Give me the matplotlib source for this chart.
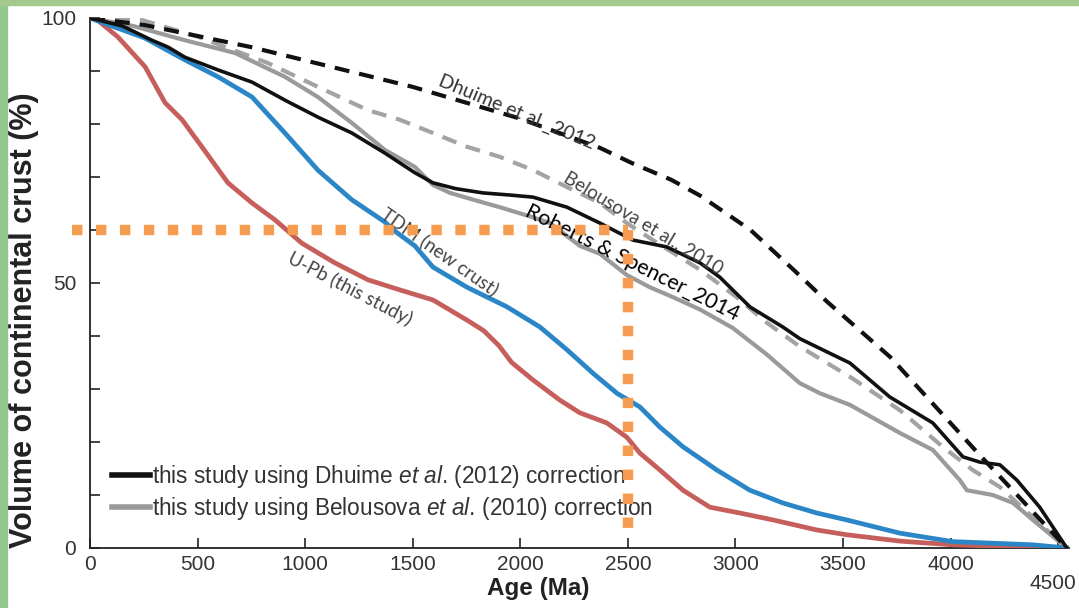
import matplotlib
matplotlib.use("Agg")
import matplotlib.pyplot as plt
from matplotlib.patches import Rectangle

plt.rcParams['font.family'] = ['Liberation Sans', 'DejaVu Sans']
plt.rcParams['mathtext.fontset'] = 'custom'
plt.rcParams['mathtext.rm'] = 'Liberation Sans'
plt.rcParams['mathtext.it'] = 'Liberation Sans:italic'

# model curves
dhuime_age = [0, 250, 750, 1100, 1500, 2000, 2370, 2520, 2700, 2835, 3070, 3270, 3425, 3720, 4136, 4540]
dhuime_vol = [100, 98.7, 94.5, 91, 87, 81, 75.5, 72.6, 69.5, 66.5, 60, 52.5, 46.5, 36, 17.5, 0]

belou_age = [0, 242, 500, 827, 1060, 1292, 1440, 1594, 1752, 1905, 2059, 2217, 2370, 2495, 2616,
             2835, 3000, 3146, 3299, 3532, 3764, 3963, 4103, 4229, 4382, 4540]
belou_vol = [100, 99.6, 96.5, 91.5, 87, 82.6, 80.8, 78.3, 75.7, 73.8, 71.3, 68.1, 65.1, 61.3, 58.1,
             52.5, 47.5, 42.5, 38, 32.3, 26, 19.1, 14.7, 11.5, 5.8, 0]

# this study, two corrections
study_d_age = [0, 150, 288, 363, 441, 595, 753, 906, 1059, 1217, 1371, 1510, 1594, 1700, 1826, 1950,
               2059, 2217, 2370, 2523, 2681, 2835, 2927, 3067, 3220, 3299, 3400, 3532, 3717, 3917,
               4057, 4136, 4229, 4308, 4414, 4540]
study_d_vol = [100, 98.5, 95.8, 94.5, 92.6, 90.2, 87.9, 84.5, 81.3, 78.3, 74.5, 70.8, 68.9, 67.8, 67,
               66.6, 66.2, 64.3, 61.3, 58.1, 56.8, 53.8, 51.1, 45.5, 41.7, 39.5, 37.5, 34.9, 28.5,
               23.6, 17.2, 16.2, 15.7, 12.8, 7.7, 0]

study_b_age = [0, 200, 441, 674, 906, 1059, 1217, 1371, 1510, 1594, 1673, 1800, 1905, 2050, 2138,
               2277, 2370, 2495, 2602, 2700, 2835, 2988, 3146, 3299, 3392, 3532, 3764, 3917, 4043,
               4075, 4196, 4290, 4382, 4540]
study_b_vol = [100, 98.5, 95.8, 93.4, 88.9, 85.1, 80.2, 75.1, 71.9, 68.5, 67, 65.5, 64.3, 62.5, 61.3,
               57, 55.5, 51.5, 49.2, 47.5, 45, 41.5, 36.5, 31.1, 29.2, 27, 21.7, 18.5, 12.8,
               10.9, 10, 8.5, 5.3, 0]

tdm_age = [0, 256, 441, 595, 753, 906, 1059, 1217, 1371, 1410, 1510, 1594, 1752, 1938, 2091, 2217,
           2337, 2449, 2556, 2649, 2756, 2914, 3067, 3220, 3378, 3517, 3764, 4010, 4382, 4540]
tdm_vol = [100, 96.2, 92.1, 88.9, 85.1, 78.3, 71.3, 65.7, 61.5, 60, 57, 53, 49.2, 45.5, 41.7, 37.4,
           33, 29.2, 26.6, 22.8, 19.1, 14.7, 10.9, 8.5, 6.6, 5.3, 2.8, 1.2, 0.6, 0]

upb_age = [0, 23, 130, 256, 349, 428, 520, 641, 753, 860, 985, 1138, 1292, 1440, 1594, 1752, 1830,
           1900, 1960, 2059, 2184, 2277, 2402, 2495, 2556, 2649, 2756, 2881, 3020, 3174, 3378, 3517,
           3764, 4010, 4250, 4540]
upb_vol = [100, 100, 96.4, 90.8, 84, 80.8, 75.7, 68.9, 65.1, 61.9, 57.5, 53.8, 50.6, 48.7, 46.8, 43,
           41, 38.2, 35, 31.7, 27.9, 25.5, 23.6, 20.9, 17.9, 14.7, 10.9, 7.7, 6.6, 5.3, 3.4, 2.5,
           1.3, 0.6, 0.3, 0]

# orange guide: 60% of crust at 2500 Ma
guide_age = 2500
guide_vol = 60

xticks = [0, 500, 1000, 1500, 2000, 2500, 3000, 3500, 4000, 4500]
yticks = list(range(0, 101, 10))
ylabels = ['0', '', '', '', '', '50', '', '', '', '', '100']

fig = plt.figure(figsize=(10.79, 6.08), dpi=100)
ax = fig.add_axes([0.0834, 0.0987, 0.9073, 0.8717])

# green frame on the left and top
fig.patches.append(Rectangle((0, 0), 7 / 1079, 1, transform=fig.transFigure, color='#93c78d', zorder=0))
fig.patches.append(Rectangle((0, 1 - 5 / 608), 1, 5 / 608, transform=fig.transFigure, color='#a3c98d', zorder=0))

ax.plot(upb_age, upb_vol, color='#c65e5c', lw=3.4, zorder=3)
ax.plot(tdm_age, tdm_vol, color='#2a86c6', lw=3.4, zorder=3)
ax.plot(belou_age, belou_vol, color='#a3a3a3', lw=3.0, dashes=(3.6, 2.4), zorder=2)
ax.plot(dhuime_age, dhuime_vol, color='#111111', lw=3.0, dashes=(3.6, 2.4), zorder=4)
l_b, = ax.plot(study_b_age, study_b_vol, color='#9a9a9a', lw=3.0, zorder=2,
               label=r'this study using Belousova $\it{et\ al}$. (2010) correction')
l_d, = ax.plot(study_d_age, study_d_vol, color='#111111', lw=2.6, zorder=4,
               label=r'this study using Dhuime $\it{et\ al}$. (2012) correction')

# orange dotted guide lines
ax.plot([-85, guide_age], [guide_vol, guide_vol], color='#f59c50', lw=7.5, dashes=(1, 1.3),
        solid_capstyle='butt', dash_capstyle='butt', clip_on=False, zorder=10)
ax.plot([guide_age, guide_age], [guide_vol, 1.5], color='#f59c50', lw=7.5, dashes=(1, 1.3),
        solid_capstyle='butt', dash_capstyle='butt', clip_on=False, zorder=10)

# curve labels
lab = dict(family=['Lato', 'DejaVu Sans'], rotation_mode='anchor', ha='center', va='center', zorder=6)
ax.text(1984, 82.3, 'Dhuime et al._2012', fontsize=14, color='#333333', rotation=-22.5, **lab)
ax.text(2570, 61.3, 'Belousova et al., 2010', fontsize=13.5, color='#444444', rotation=-31, **lab)
ax.text(2519, 53.8, 'Roberts & Spencer_2014', fontsize=15.5, color='#000000', rotation=-26.5, **lab)
ax.text(1626, 56.0, 'TDM (new crust)', fontsize=13.5, color='#444444', rotation=-35, **lab)
ax.text(1208, 49.0, 'U-Pb (this study)', fontsize=13.5, color='#444444', rotation=-27.5, **lab)

leg = ax.legend(handles=[l_d, l_b], loc='center left', bbox_to_anchor=(0.022, 0.105),
                frameon=False, fontsize=16.3, handlelength=1.7, handletextpad=0.08,
                labelspacing=0.2, borderpad=0, borderaxespad=0)
for t in leg.get_texts():
    t.set_color('#333333')
for h in leg.get_lines():
    h.set_linewidth(4)

ax.set_xlim(0, 4550)
ax.set_ylim(0, 100)
ax.set_xticks(xticks)
ax.set_xticklabels([str(v) for v in xticks[:-1]] + [''])
ax.text(4474, -0.05, '4500', transform=ax.get_xaxis_transform(), ha='center', va='top',
        fontsize=15, color='#333333')
ax.set_yticks(yticks)
ax.set_yticklabels(ylabels)
ax.tick_params(axis='both', direction='in', length=7, width=1.2, labelsize=15,
               labelcolor='#333333', color='#222222')
ax.tick_params(axis='y', pad=10)
ax.tick_params(axis='x', pad=5)

for s in ['top', 'right']:
    ax.spines[s].set_visible(False)
for s in ['left', 'bottom']:
    ax.spines[s].set_linewidth(1.3)
    ax.spines[s].set_color('#222222')

ax.set_xlabel('Age (Ma)', fontsize=17.5, fontweight='bold', color='#222222')
ax.xaxis.set_label_coords(0.458, -0.055)
ax.set_ylabel('Volume of continental crust (%)', fontsize=22, fontweight='bold', color='#222222')
ax.yaxis.set_label_coords(-0.052, 0.43)

fig.savefig('out.png', dpi=100)
